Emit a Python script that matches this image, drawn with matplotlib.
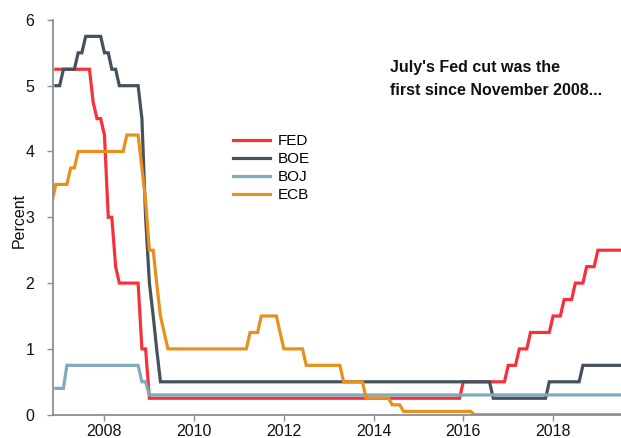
import matplotlib
matplotlib.use("Agg")
import matplotlib.pyplot as plt
import pandas as pd
import numpy as np

fed_dates = ["2006-12", "2007-10", "2007-11", "2008-01", "2008-02", "2008-04", "2008-05",
             "2008-11", "2009-01", "2016-01", "2017-01", "2017-04", "2017-07", "2018-01",
             "2018-04", "2018-07", "2018-10", "2019-01"]
fed_rates = [5.25, 4.75, 4.5, 4.25, 3.0, 2.25, 2.0, 1.0, 0.25, 0.5, 0.75, 1.0, 1.25, 1.5,
             1.75, 2.0, 2.25, 2.5]

boe_dates = ["2006-12", "2007-02", "2007-06", "2007-08", "2008-01", "2008-03", "2008-05",
             "2008-11", "2008-12", "2009-01", "2009-02", "2009-03", "2009-04", "2016-09",
             "2017-12", "2018-09"]
boe_rates = [5.0, 5.25, 5.5, 5.75, 5.5, 5.25, 5.0, 4.5, 3.0, 2.0, 1.5, 1.0, 0.5, 0.25,
             0.5, 0.75]

boj_dates = ["2006-12", "2007-03", "2008-11", "2009-01"]
boj_rates = [0.4, 0.75, 0.5, 0.3]

ecb_dates = ["2006-11", "2006-12", "2007-04", "2007-06", "2008-07", "2008-11", "2008-12",
             "2009-01", "2009-03", "2009-04", "2009-05", "2009-06", "2011-04", "2011-07",
             "2011-12", "2012-01", "2012-07", "2013-05", "2013-11", "2014-06", "2014-09",
             "2016-04"]
ecb_rates = [3.25, 3.5, 3.75, 4.0, 4.25, 3.75, 3.25, 2.5, 2.0, 1.5, 1.25, 1.0, 1.25, 1.5,
             1.25, 1.0, 0.75, 0.5, 0.25, 0.15, 0.05, 0.0]

series_names = ["FED", "BOE", "BOJ", "ECB"]
series_colors = ["#F5323C", "#45525C", "#7FA9BE", "#E8901E"]
end_month = "2019-07"

title_text = "July's Fed cut was the\nfirst since November 2008..."
y_ticks = [0, 1, 2, 3, 4, 5, 6]
x_tick_years = [2008, 2010, 2012, 2014, 2016, 2018]


def monthly(dates, rates):
    s = pd.Series(rates, index=pd.to_datetime(dates))
    idx = pd.date_range(s.index[0], pd.Timestamp(end_month), freq="MS")
    return s.reindex(idx).ffill()


data = [monthly(fed_dates, fed_rates), monthly(boe_dates, boe_rates),
        monthly(boj_dates, boj_rates), monthly(ecb_dates, ecb_rates)]

plt.rcParams["font.family"] = ["Liberation Sans", "DejaVu Sans"]

W, H = 621, 438
fig = plt.figure(figsize=(W / 100, H / 100), dpi=100)
ax = fig.add_axes([53 / W, (H - 414.7) / H, 1 - 53 / W, (414.7 - 19.9) / H])

for s, name, col in zip(data, series_names, series_colors):
    ax.plot(s.index, s.values, color=col, lw=2.3, label=name, solid_joinstyle="miter")

ax.set_xlim(pd.Timestamp("2006-11-08"), pd.Timestamp("2019-07-08"))
ax.set_ylim(0, 6)
ax.set_yticks(y_ticks)
ax.set_xticks([pd.Timestamp(f"{y}-01-01") for y in x_tick_years])
ax.set_xticklabels([str(y) for y in x_tick_years])

for sp in ["top", "right"]:
    ax.spines[sp].set_visible(False)
for sp in ["left", "bottom"]:
    ax.spines[sp].set_color("#8A8F94")
    ax.spines[sp].set_linewidth(1.3)
ax.tick_params(axis="y", length=4.5, width=1.0, color="#8A8F94", pad=9, labelsize=11.5,
               labelcolor="#111111")
ax.tick_params(axis="x", length=4.0, width=1.0, color="#8A8F94", pad=3, labelsize=11.5,
               labelcolor="#111111")

fig.text(19 / W, 1 - 220 / H, "Percent", rotation=90, ha="center", va="center",
         fontsize=11.5, color="#111111")

leg = ax.legend(loc="upper left", bbox_to_anchor=(233 / W, 1 - 134 / H),
                bbox_transform=fig.transFigure, frameon=False, fontsize=11,
                handlelength=2.45, handletextpad=0.45, labelspacing=0.27,
                borderaxespad=0, borderpad=0)
for line in leg.get_lines():
    line.set_linewidth(2.3)

fig.text(390 / W, 1 - 79 / H, title_text, ha="left", va="center", fontsize=11.5,
         fontweight="bold", color="#111111", linespacing=1.68)

fig.savefig("out.png", dpi=100)
